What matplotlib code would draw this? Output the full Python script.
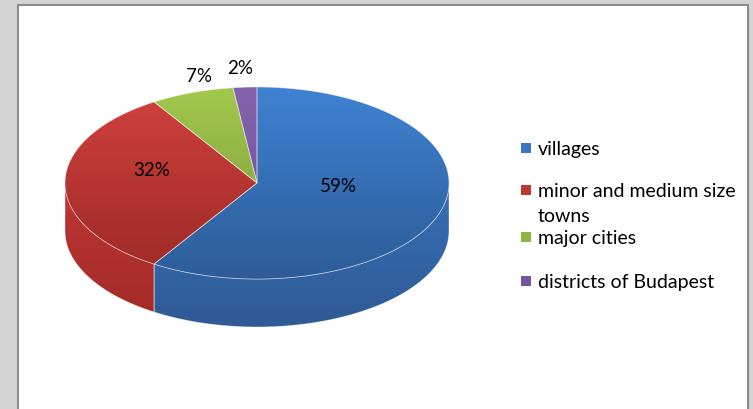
import numpy as np
import matplotlib
matplotlib.use('Agg')
import matplotlib.pyplot as plt
from matplotlib.patches import Polygon, Rectangle
from matplotlib.colors import to_rgb

# ---- data ----
categories = ['villages', 'minor and medium size\ntowns', 'major cities', 'districts of Budapest']
values = [59, 32, 7, 2]
pct_labels = ['59%', '32%', '7%', '2%']
top_colors = [('#3f82d2', '#2d5c98'), ('#d2413d', '#9b2a27'),
              ('#a2c84c', '#789539'), ('#8463ac', '#6c4e94')]
side_colors = [('#3770b8', '#2f5a95'), ('#bf3734', '#a02a27'),
               ('#86a63f', '#6d8a33'), ('#6f5296', '#5c4480')]
legend_colors = ['#3a75c0', '#c0392f', '#8eb443', '#7355a0']

W, H = 753, 409
fig = plt.figure(figsize=(W / 100, H / 100), dpi=100)
fig.patch.set_facecolor('#d4d4d4')
ax = fig.add_axes([0, 0, 1, 1])
ax.set_xlim(0, W)
ax.set_ylim(H, 0)
ax.axis('off')

ax.add_patch(Rectangle((18.5, 4.5), 730, 440, facecolor='white',
                       edgecolor='#8c8c8c', lw=1.5, zorder=0))

cx, cy, a, b, depth = 257, 183, 192, 96, 48
ytop, ybot = cy - b, cy + b + depth


def pt(theta_deg, dy=0.0):
    t = np.radians(theta_deg)
    return cx + a * np.sin(t), cy - b * np.cos(t) + dy


def arc(t0, t1, dy=0.0, n=200):
    ts = np.linspace(t0, t1, max(2, int(n * (t1 - t0) / 360) + 2))
    return [pt(t, dy) for t in ts]


def grad_fill(verts, c0, c1, z, y0, y1):
    poly = Polygon(verts, closed=True, facecolor='none',
                   edgecolor=(1, 1, 1, 0.45), lw=0.6, zorder=z + 0.1)
    ax.add_patch(poly)
    n = 256
    t = np.linspace(0, 1, n)[:, None, None]
    img = (1 - t) * np.array(to_rgb(c0))[None, None, :] + t * np.array(to_rgb(c1))[None, None, :]
    im = ax.imshow(img, extent=(cx - a - 2, cx + a + 2, y1, y0), aspect='auto',
                   interpolation='bilinear', zorder=z)
    im.set_clip_path(poly)


total = float(sum(values))
bounds = np.concatenate([[0], np.cumsum(values) / total * 360])

# side walls (visible part: 90..270 degrees)
for i in range(len(values)):
    t0, t1 = max(bounds[i], 90), min(bounds[i + 1], 270)
    if t1 <= t0:
        continue
    top = arc(t0, t1)
    bot = arc(t0, t1, dy=depth)[::-1]
    grad_fill(top + bot, side_colors[i][0], side_colors[i][1], 1, cy, ybot)

# tops
for i in range(len(values)):
    verts = [(cx, cy)] + arc(bounds[i], bounds[i + 1])
    grad_fill(verts, top_colors[i][0], top_colors[i][1], 2, ytop, cy + b)

# percentage labels
label_pos = [(338, 187), (152, 170), (199, 76), (240, 68)]
for (x, y), s in zip(label_pos, pct_labels):
    ax.text(x, y, s, fontsize=13.5, family='Lato', ha='center', va='center',
            color='#000000', zorder=5)

# legend
leg_y = [148, 190, 237, 281]
for y, c, name in zip(leg_y, legend_colors, categories):
    ax.add_patch(Rectangle((521, y - 5), 10, 10, facecolor=c, edgecolor='none', zorder=5))
    for k, line in enumerate(name.split('\n')):
        ax.text(538, y + 7 + 25 * k, line, fontsize=14, family='Lato', ha='left',
                va='baseline', color='#000000', zorder=5)

fig.savefig('out.png', dpi=100, facecolor=fig.get_facecolor())
